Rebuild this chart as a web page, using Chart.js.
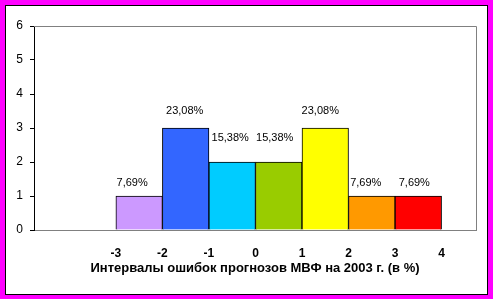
<!DOCTYPE html>
<html>
<head>
<meta charset="utf-8">
<script src="https://cdn.jsdelivr.net/npm/chart.js@4.4.0/dist/chart.umd.min.js"></script>
<style>
  html, body { margin: 0; padding: 0; background: #fff; }
  #wrap { width: 493px; height: 299px; }
</style>
</head>
<body>
<div id="wrap"><canvas id="chart" width="493" height="299"></canvas></div>
<script>
// интервалы ошибок: центры столбцов и число прогнозов
const intervalCenters = [-2.5, -1.5, -0.5, 0.5, 1.5, 2.5, 3.5];
const counts = [1, 3, 2, 2, 3, 1, 1];
const shareLabels = ["7,69%", "23,08%", "15,38%", "15,38%", "23,08%", "7,69%", "7,69%"];
const xTickValues = [-3, -2, -1, 0, 1, 2, 3, 4];
const barColors = ["#CC99FF", "#3366FF", "#00CCFF", "#99CC00", "#FFFF00", "#FF9900", "#FF0000"];

const FONT = "'Liberation Sans', Arial, sans-serif";

// сдвиги подписей данных (как в исходной диаграмме)
const labelDx = [-7, -1, -2, -4, -5, -6, -4];
const labelDy = [-13, -17, -24, -24, -17, -13, -13];

const framePlugin = {
  id: "frame",
  beforeDraw(chart) {
    const ctx = chart.ctx;
    ctx.save();
    ctx.fillStyle = "#FF00FF";
    ctx.fillRect(0, 0, chart.width, chart.height);
    ctx.fillStyle = "#000";
    ctx.fillRect(5, 5, 483, 290);
    ctx.fillStyle = "#fff";
    ctx.fillRect(6, 6, 481, 288);
    ctx.restore();
  },
  afterDatasetsDraw(chart) {
    const ctx = chart.ctx;
    const a = chart.chartArea;
    ctx.save();
    // рамка области построения сверху и справа
    ctx.strokeStyle = "#808080";
    ctx.lineWidth = 1;
    ctx.beginPath();
    ctx.moveTo(a.left, a.top + 0.5);
    ctx.lineTo(a.right + 0.5, a.top + 0.5);
    ctx.lineTo(a.right + 0.5, a.bottom);
    ctx.stroke();
    // подписи данных
    ctx.fillStyle = "#000";
    ctx.font = "11px " + FONT;
    ctx.textAlign = "center";
    ctx.textBaseline = "middle";
    chart.getDatasetMeta(0).data.forEach((bar, i) => {
      ctx.fillText(shareLabels[i], bar.x + labelDx[i], bar.y + labelDy[i]);
    });
    ctx.restore();
  }
};

new Chart(document.getElementById("chart"), {
  type: "bar",
  data: {
    datasets: [{
      data: intervalCenters.map((x, i) => ({ x: x, y: counts[i] })),
      backgroundColor: barColors,
      borderColor: "#000",
      borderWidth: 1,
      barPercentage: 1,
      categoryPercentage: 1
    }]
  },
  options: {
    responsive: false,
    animation: false,
    events: [],
    layout: { padding: { left: 0, top: 26, right: 17, bottom: 0 } },
    plugins: {
      legend: { display: false },
      tooltip: { enabled: false }
    },
    scales: {
      x: {
        type: "linear",
        offset: false,
        min: -4.76,
        max: 4.74,
        afterBuildTicks(scale) {
          scale.ticks = xTickValues.map(v => ({ value: v }));
        },
        afterFit(scale) { scale.height = 69; },
        grid: { display: true, drawOnChartArea: false, drawTicks: false },
        border: { color: "#808080", width: 1 },
        ticks: {
          color: "#000",
          padding: 16,
          maxRotation: 0,
          autoSkip: false,
          font: { family: FONT, size: 12, weight: "bold" }
        },
        title: {
          display: true,
          text: "Интервалы ошибок прогнозов МВФ на 2003 г. (в %)",
          color: "#000",
          padding: { top: 0, bottom: 23 },
          font: { family: FONT, size: 13, weight: "bold" }
        }
      },
      y: {
        min: 0,
        max: 6,
        afterFit(scale) { scale.width = 34; },
        grid: { display: true, drawOnChartArea: false, drawTicks: true, tickLength: 4, color: "#000" },
        border: { color: "#000", width: 1 },
        ticks: {
          stepSize: 1,
          color: "#000",
          padding: 7,
          font: { family: FONT, size: 12 }
        }
      }
    }
  },
  plugins: [framePlugin]
});
</script>
</body>
</html>
